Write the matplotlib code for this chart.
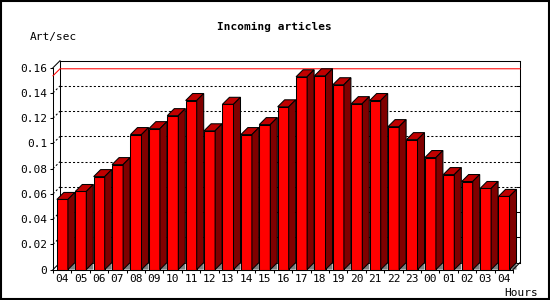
import matplotlib
matplotlib.use('Agg')
import matplotlib.pyplot as plt
from matplotlib.patches import Polygon, Rectangle
import numpy as np

hours = ['04', '05', '06', '07', '08', '09', '10', '11', '12', '13', '14', '15', '16',
         '17', '18', '19', '20', '21', '22', '23', '00', '01', '02', '03', '04']
rate = [0.0556, 0.0619, 0.0737, 0.0832, 0.1070, 0.1117, 0.1220, 0.1340, 0.1100, 0.1310,
        0.1070, 0.1149, 0.1290, 0.1528, 0.1536, 0.1465, 0.1315, 0.1340, 0.1133, 0.1030,
        0.0888, 0.0753, 0.0698, 0.0643, 0.0580]
yticks = [0, 0.02, 0.04, 0.06, 0.08, 0.10, 0.12, 0.14, 0.16]
ylabels = ['0', '0.02', '0.04', '0.06', '0.08', '0.1', '0.12', '0.14', '0.16']

plt.rcParams['font.family'] = ['DejaVu Sans Mono']
W, H = 550, 300
fig = plt.figure(figsize=(5.5, 3), dpi=100)

# front plot area in pixels
x0, x1 = 53, 513
y0, y1 = 269.6, 67.7
ax = fig.add_axes([x0 / W, 1 - y0 / H, (x1 - x0) / W, (y0 - y1) / H])
n = len(rate)
ax.set_xlim(0, n)
ax.set_ylim(0, 0.16)
for s in ax.spines.values():
    s.set_visible(False)
ax.patch.set_visible(False)

# 3d depth offset (7 px) in data units
dx = 7 / (x1 - x0) * n
dy = 7 / (y0 - y1) * 0.16
px = n / (x1 - x0)

lw = 0.75
line = dict(color='black', lw=lw, clip_on=False, zorder=1)
# back plane and walls
ax.plot([dx, n + dx], [0.16 + dy] * 2, **line)
ax.plot([dx, n + dx], [dy] * 2, **line)
ax.plot([dx, dx], [dy, 0.16 + dy], **line)
ax.plot([n + dx, n + dx], [dy, 0.16 + dy], **line)
ax.plot([0, 0], [0, 0.16], **line)
ax.plot([0, dx], [0.16, 0.16 + dy], **line)
ax.plot([0, dx], [0, dy], **line)
ax.plot([0, n], [0, 0], color='black', lw=lw, clip_on=False, zorder=5)
ax.plot([n, n + dx], [0, dy], color='black', lw=lw, clip_on=False, zorder=5)

# grid on back plane and left wall
for v in yticks[1:-1]:
    ax.plot([dx, n + dx], [v + dy] * 2, color='black', lw=lw,
            linestyle=(0, (2, 2)), clip_on=False, zorder=1)
    ax.plot([0, dx], [v, v + dy], color='black', lw=lw,
            linestyle=(0, (2, 2)), clip_on=False, zorder=1)
    ax.plot([n + dx - 3 * px, n + dx], [v + dy] * 2, color='black', lw=lw,
            clip_on=False, zorder=1)

# max line
m = max(rate)
ax.plot([0, dx, n + dx], [m, m + dy, m + dy], color='red', lw=lw,
        clip_on=False, zorder=2)

# bars
w = 0.6
for i, v in enumerate(rate):
    xl = i + 0.21
    ax.add_patch(Polygon([(xl + w, 0), (xl + w + dx, dy), (xl + w + dx, 0)],
                         closed=True, fc='#808080', ec='none', zorder=3, clip_on=False))
    ax.add_patch(Polygon([(xl, 0), (xl + w, 0), (xl + w, v), (xl, v)],
                         closed=True, fc='#ff0000', ec='black', lw=lw, zorder=4, clip_on=False))
    ax.add_patch(Polygon([(xl, v), (xl + w, v), (xl + w + dx, v + dy), (xl + dx, v + dy)],
                         closed=True, fc='#c00000', ec='black', lw=lw, zorder=4, clip_on=False))
    ax.add_patch(Polygon([(xl + w, 0), (xl + w, v), (xl + w + dx, v + dy), (xl + w + dx, dy)],
                         closed=True, fc='#800000', ec='black', lw=lw, zorder=4, clip_on=False))

# ticks
ax.set_xticks(np.arange(n + 1))
ax.set_xticklabels([])
ax.set_xticks(np.arange(n) + 0.5, minor=True)
ax.set_xticklabels(hours, minor=True, fontsize=8)
ax.tick_params(axis='x', which='major', direction='out', length=2.2, width=lw)
ax.tick_params(axis='x', which='minor', length=0, pad=3)
ax.set_yticks(yticks)
ax.set_yticklabels(ylabels, fontsize=8)
ax.tick_params(axis='y', direction='out', length=2.2, width=lw, pad=2)

fig.text(274 / W, 1 - 26.7 / H, 'Incoming articles', ha='center', va='center',
         fontsize=8, fontweight='bold')
fig.text(30 / W, 1 - 36.7 / H, 'Art/sec', ha='left', va='center', fontsize=8)
fig.text(504 / W, 1 - 292.7 / H, 'Hours', ha='left', va='center', fontsize=8)

fig.patches.append(Rectangle((0.5 / W, 1.5 / H), 548 / W, 297.5 / H, transform=fig.transFigure,
                             fill=False, ec='black', lw=1.5))

fig.savefig('out.png', dpi=100)
